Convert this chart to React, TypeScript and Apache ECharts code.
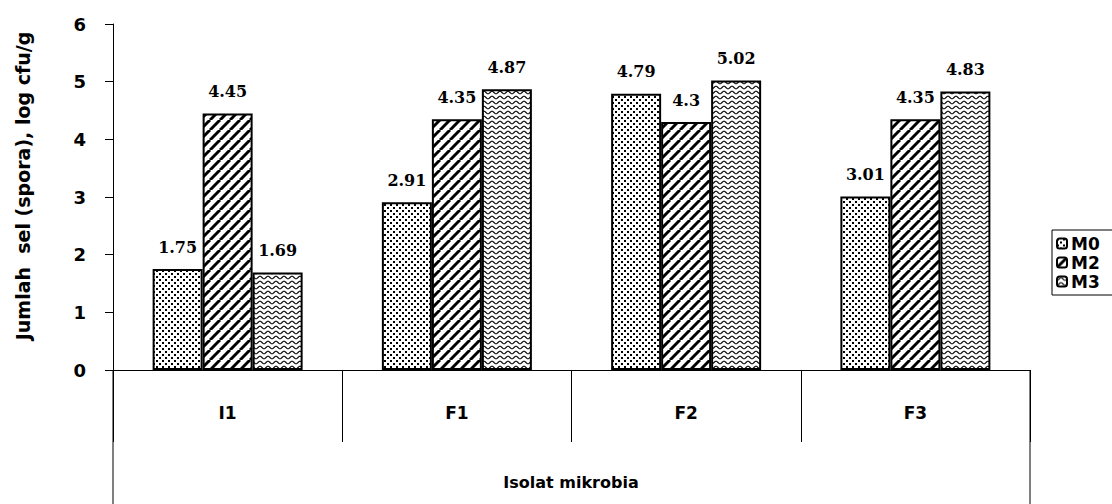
import React, { useEffect, useRef } from "react";
import * as echarts from "echarts";

const categories = ["I1", "F1", "F2", "F3"];
const seriesNames = ["M0", "M2", "M3"];
const m0Values = [1.75, 2.91, 4.79, 3.01];
const m2Values = [4.45, 4.35, 4.3, 4.35];
const m3Values = [1.69, 4.87, 5.02, 4.83];
const yMin = 0;
const yMax = 6;
const yInterval = 1;
const yTitle = "Jumlah  sel (spora), log cfu/g";
const xTitle = "Isolat mikrobia";

function makeTile(w: number, h: number, draw: (ctx: CanvasRenderingContext2D) => void) {
  const c = document.createElement("canvas");
  c.width = w;
  c.height = h;
  const ctx = c.getContext("2d") as CanvasRenderingContext2D;
  ctx.fillStyle = "#fff";
  ctx.fillRect(0, 0, w, h);
  draw(ctx);
  return { image: c, repeat: "repeat", imageWidth: w, imageHeight: h } as any;
}

function dotsPattern() {
  return makeTile(6, 6, (ctx) => {
    ctx.fillStyle = "#000";
    ctx.fillRect(0, 0, 2, 2);
    ctx.fillRect(3, 3, 2, 2);
  });
}

function hatchPattern() {
  return makeTile(10, 10, (ctx) => {
    ctx.strokeStyle = "#000";
    ctx.lineWidth = 3;
    for (const o of [-10, 0, 10]) {
      ctx.beginPath();
      ctx.moveTo(o, 10);
      ctx.lineTo(o + 10, 0);
      ctx.stroke();
    }
  });
}

function wavePattern() {
  return makeTile(8, 5, (ctx) => {
    ctx.strokeStyle = "#000";
    ctx.lineWidth = 1.1;
    ctx.beginPath();
    for (let x = -1; x <= 9; x += 0.5) {
      const y = 2.5 + 1.3 * Math.cos((2 * Math.PI * x) / 8);
      if (x === -1) ctx.moveTo(x, y);
      else ctx.lineTo(x, y);
    }
    ctx.stroke();
  });
}

export default function App() {
  const ref = useRef<HTMLDivElement>(null);
  useEffect(() => {
    if (!ref.current) return;
    const chart = echarts.init(ref.current, null, { renderer: "svg" });
    const fills = [dotsPattern(), hatchPattern(), wavePattern()];
    const valuesList = [m0Values, m2Values, m3Values];
    const labelFont = {
      fontFamily: "DejaVu Serif",
      fontWeight: "bold",
      fontSize: 16,
      color: "#000",
    };
    chart.setOption({
      animation: false,
      backgroundColor: "#fff",
      grid: { left: 113, right: 82, top: 24, bottom: 134, containLabel: false },
      legend: {
        orient: "vertical",
        left: 1052,
        top: 230,
        itemWidth: 10,
        itemHeight: 10,
        itemGap: 2,
        padding: [5, 14, 5, 4],
        borderColor: "#000",
        borderWidth: 1,
        selectedMode: false,
        textStyle: {
          fontFamily: "DejaVu Sans",
          fontWeight: "bold",
          fontSize: 17,
          lineHeight: 15,
          color: "#000",
          padding: [0, 0, 0, -1],
        },
        data: seriesNames,
      },
      xAxis: {
        type: "category",
        data: categories,
        axisLine: { lineStyle: { color: "#000", width: 1 } },
        axisTick: { show: true, length: 72, interval: 0, lineStyle: { color: "#000", width: 1 } },
        axisLabel: {
          margin: 34,
          fontFamily: "DejaVu Sans",
          fontWeight: "bold",
          fontSize: 17,
          color: "#000",
        },
        splitLine: { show: false },
      },
      yAxis: {
        type: "value",
        min: yMin,
        max: yMax,
        interval: yInterval,
        axisLine: { show: true, lineStyle: { color: "#000", width: 1 } },
        axisTick: { show: true, length: 8, lineStyle: { color: "#000", width: 1 } },
        axisLabel: {
          margin: 27,
          fontFamily: "DejaVu Sans",
          fontWeight: "bold",
          fontSize: 18,
          color: "#000",
        },
        splitLine: { show: false },
      },
      series: seriesNames.map((name, i) => ({
        name,
        type: "bar",
        data: valuesList[i],
        barWidth: 50,
        barGap: "0%",
        itemStyle: { color: fills[i], borderColor: "#000", borderWidth: 2 },
        label: {
          show: true,
          position: "top",
          distance: 14,
          ...labelFont,
        },
      })),
      graphic: [
        {
          type: "line",
          shape: { x1: 113, y1: 370, x2: 113, y2: 504 },
          style: { stroke: "#000", lineWidth: 1 },
        },
        {
          type: "line",
          shape: { x1: 1030, y1: 370, x2: 1030, y2: 504 },
          style: { stroke: "#000", lineWidth: 1 },
        },
        {
          type: "text",
          x: 23,
          y: 186,
          rotation: Math.PI / 2,
          style: {
            text: yTitle,
            fontFamily: "DejaVu Sans",
            fontWeight: "bold",
            fontSize: 19,
            fill: "#000",
            align: "center",
            verticalAlign: "middle",
          },
        },
        {
          type: "text",
          x: 571,
          y: 482,
          style: {
            text: xTitle,
            fontFamily: "DejaVu Sans",
            fontWeight: "bold",
            fontSize: 16,
            fill: "#000",
            align: "center",
            verticalAlign: "middle",
          },
        },
      ],
    });
    return () => chart.dispose();
  }, []);
  return <div ref={ref} style={{ width: 1112, height: 504, position: "absolute", left: 0, top: 0 }} />;
}
